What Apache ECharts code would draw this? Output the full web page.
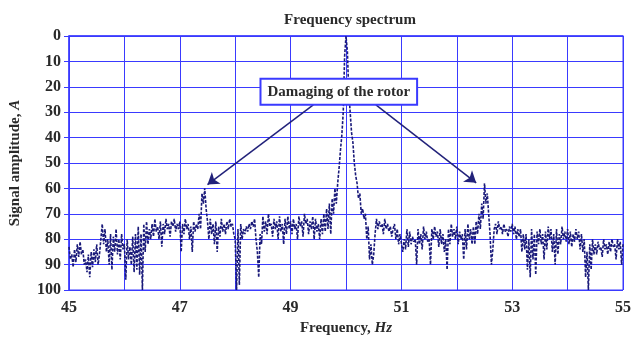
<!DOCTYPE html>
<html>
<head>
<meta charset="utf-8">
<script src="https://cdn.jsdelivr.net/npm/echarts@6/dist/echarts.min.js"></script>
<style>html,body{margin:0;padding:0;background:#fff}#c{width:634px;height:341px}</style>
</head>
<body>
<div id="c"></div>
<script>
// Frequency grid: 45.0 .. 55.0 Hz, one sample every 0.025 Hz
var freqStart = 45.0;
var freqStep = 0.025;
// Signal amplitude, A, 20 values per 0.5 Hz
var amplitude = [
  83,88,86,91,84,89,82,87,81,86,84,90,88,93,86,95,85,91,84,89, // 45.0
  82,90,86,80,74,82,76,85,80,90,78,92,79,85,76,86,80,88,78,84, // 45.5
  82,96,80,88,83,90,79,93,78,92,75,94,78,100,74,85,73,82,76,80, // 46.0
  74,79,72,77,75,80,73,83,74,78,72,76,74,79,73,75,72,77,74,76, // 46.5
  73,85,74,78,72,76,74,80,75,85,73,77,74,76,70,76,62,66,60,68, // 47.0
  73,80,72,78,74,82,73,85,75,79,72,77,74,78,73,76,72,75,74,78, // 47.5
  80,100,76,98,74,80,76,78,75,77,74,76,73,75,72,80,85,95,78,82, // 48.0
  71,77,73,78,70,75,74,79,72,76,73,80,71,77,74,82,72,78,71,76, // 48.5
  73,78,72,76,74,80,71,75,73,79,70,74,72,78,73,76,71,80,72,77, // 49.0
  74,80,72,78,70,77,68,76,66,78,64,70,60,66,58,52,45,39,30,8,  // 49.5
  0,6,22,30,38,42,50,55,58,64,62,70,68,72,70,80,75,88,82,90,   // 50.0
  86,78,72,76,73,75,74,78,72,76,74,77,75,79,76,74,80,76,82,78, // 50.5
  78,85,80,84,76,83,77,82,79,81,80,90,76,82,78,84,75,80,77,81, // 51.0
  80,90,76,80,75,79,77,83,76,82,78,85,80,92,76,82,74,79,76,80, // 51.5
  75,82,77,80,78,88,76,84,74,80,76,82,75,82,73,78,70,76,66,72, // 52.0
  58,66,62,70,78,90,84,76,74,78,73,76,75,78,74,77,76,79,75,77, // 52.5
  74,78,75,80,76,79,76,85,78,84,78,92,80,95,76,88,78,94,77,82, // 53.0
  76,82,78,88,77,84,75,80,76,85,78,90,76,86,78,82,75,80,77,81, // 53.5
  76,82,77,83,78,81,76,80,77,84,78,85,80,95,85,100,82,92,80,86, // 54.0
  82,86,81,84,83,87,80,84,82,86,81,85,80,83,82,88,80,84,81,90, // 54.5
  82                                                           // 55.0
];
var xTicks = [45, 47, 49, 51, 53, 55];
var yTicks = [0, 10, 20, 30, 40, 50, 60, 70, 80, 90, 100];
var annotationText = 'Damaging of the rotor';
var annotationPos = [49.87, 21.9];
var arrowLeft = [[49.41, 27.1], [47.5, 58.5]];
var arrowRight = [[50.54, 27.1], [52.35, 57.8]];

var seriesData = amplitude.map(function (a, i) {
  return [+(freqStart + i * freqStep).toFixed(3), a];
});

var gridBlue = '#3a3aff';
var textCol = '#2a2a2a';
var serif = '"Liberation Serif", "DejaVu Serif", serif';
var chart = echarts.init(document.getElementById('c'));
chart.setOption({
  animation: false,
  backgroundColor: '#fff',
  title: {
    text: 'Frequency spectrum',
    left: 345, top: 8, textAlign: 'center',
    textStyle: { fontFamily: serif, fontSize: 15, fontWeight: 'bold', color: textCol }
  },
  grid: { left: 66, right: 4, top: 36, bottom: 46, show: true, borderColor: gridBlue, borderWidth: 1 },
  xAxis: {
    type: 'value', min: 45, max: 55, interval: 1,
    name: 'Frequency, {i|Hz}', nameLocation: 'middle', nameGap: 31,
    nameTextStyle: { fontFamily: serif, fontSize: 15, fontWeight: 'bold', color: textCol,
      rich: { i: { fontFamily: serif, fontSize: 15, fontStyle: 'italic', fontWeight: 'bold', color: textCol } } },
    axisLine: { lineStyle: { color: gridBlue, width: 1.5 } },
    axisTick: { show: true, length: 5, lineStyle: { color: gridBlue } },
    axisLabel: {
      fontFamily: serif, fontSize: 16, fontWeight: 'bold', color: textCol, margin: 10,
      formatter: function (v) { return xTicks.indexOf(Math.round(v)) >= 0 && Math.abs(v - Math.round(v)) < 1e-6 ? String(Math.round(v)) : ''; }
    },
    splitLine: { show: true, lineStyle: { color: gridBlue, width: 1 } }
  },
  yAxis: {
    type: 'value', inverse: true, min: yTicks[0], max: yTicks[yTicks.length - 1], interval: 10,
    name: 'Signal amplitude, {i|A}', nameLocation: 'middle', nameGap: 46,
    nameTextStyle: { fontFamily: serif, fontSize: 15, fontWeight: 'bold', color: textCol,
      rich: { i: { fontFamily: serif, fontSize: 15, fontStyle: 'italic', fontWeight: 'bold', color: textCol } } },
    axisLine: { show: true, lineStyle: { color: gridBlue, width: 1.5 } },
    axisTick: { show: true, length: 5, lineStyle: { color: gridBlue } },
    axisLabel: { fontFamily: serif, fontSize: 16, fontWeight: 'bold', color: textCol, margin: 8 },
    splitLine: { show: true, lineStyle: { color: gridBlue, width: 1 } }
  },
  series: [{
    type: 'line',
    data: seriesData,
    showSymbol: false,
    lineStyle: { color: '#1a1a7a', width: 1.6, type: [3, 1.5] },
    markLine: {
      silent: true,
      symbol: ['none', 'arrow'],
      symbolSize: 11,
      lineStyle: { color: '#22227a', width: 1.5, type: 'solid' },
      label: { show: false },
      data: [
        [{ coord: arrowLeft[0], symbol: 'none' }, { coord: arrowLeft[1], symbol: 'arrow', symbolSize: 11 }],
        [{ coord: arrowRight[0], symbol: 'none' }, { coord: arrowRight[1], symbol: 'arrow', symbolSize: 11 }]
      ]
    },
    markPoint: {
      silent: true,
      symbol: 'rect', symbolSize: 0,
      data: [{ coord: annotationPos }],
      label: {
        show: true, position: 'inside', formatter: annotationText,
        fontFamily: serif, fontSize: 15, fontWeight: 'bold', color: textCol,
        backgroundColor: '#fff', borderColor: gridBlue, borderWidth: 2,
        padding: [5, 6, 4, 6]
      }
    }
  }]
});
</script>
</body>
</html>
